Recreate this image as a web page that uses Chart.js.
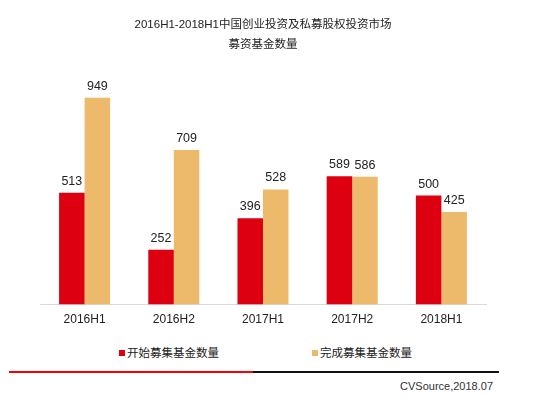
<!DOCTYPE html>
<html>
<head>
<meta charset="utf-8">
<script src="https://cdn.jsdelivr.net/npm/chart.js@4.4.1/dist/chart.umd.min.js"></script>
<style>
  body { margin: 0; background: #fff; font-family: "Liberation Sans", "Noto Sans CJK SC", sans-serif; }
  #wrap { position: relative; width: 549px; height: 398px; }
  #box { position: absolute; left: 0; top: 0; width: 530px; height: 343px; }
  .leg { position: absolute; top: 345px; font-size: 11.5px; color: #222; line-height: 16px; }
  .leg i { display: inline-block; width: 6px; height: 6px; margin-right: 2px; vertical-align: 1px; }
  #lineRed { position: absolute; left: 9px; top: 371px; width: 244px; height: 2px; background: #ff0000; }
  #lineBlack { position: absolute; left: 253px; top: 371px; width: 246px; height: 2px; background: #111; }
  #src { position: absolute; right: 56px; top: 380px; font-size: 11px; color: #333; }
</style>
</head>
<body>
<div id="wrap">
  <div id="box"><canvas id="barChart"></canvas></div>
  <div class="leg" style="left:119px"><i style="background:#dc0010"></i>开始募集基金数量</div>
  <div class="leg" style="left:312px"><i style="background:#edb96a"></i>完成募集基金数量</div>
  <div id="lineRed"></div>
  <div id="lineBlack"></div>
  <div id="src">CVSource,2018.07</div>
</div>
<script>
let periods = ['2016H1', '2016H2', '2017H1', '2017H2', '2018H1'];
let startCount = [513, 252, 396, 589, 500];
let doneCount = [949, 709, 528, 586, 425];

//value labels above bars
const valueLabels = {
    id: 'valueLabels',
    afterDatasetsDraw(chart) {
        const ctx = chart.ctx;
        ctx.save();
        ctx.font = '12.5px "Liberation Sans", sans-serif';
        ctx.fillStyle = '#222';
        ctx.textAlign = 'center';
        ctx.textBaseline = 'alphabetic';
        chart.data.datasets.forEach((ds, i) => {
            chart.getDatasetMeta(i).data.forEach((bar, j) => {
                ctx.fillText(ds.data[j], bar.x, bar.y - 8);
            });
        });
        ctx.restore();
    }
};

const ctx = document.getElementById('barChart');
new Chart(ctx, {
    type: 'bar',
    data: {
        labels: periods,
        datasets: [{
            label: '开始募集基金数量',
            data: startCount,
            backgroundColor: '#dc0010'
        }, {
            label: '完成募集基金数量',
            data: doneCount,
            backgroundColor: '#edb96a'
        }]
    },
    options: {
        responsive: true,
        maintainAspectRatio: false,
        animation: false,
        layout: { padding: { left: 40, right: 44, top: 0, bottom: 8 } },
        datasets: { bar: { categoryPercentage: 0.572, barPercentage: 1 } },
        plugins: {
            legend: { display: false },
            tooltip: { enabled: false },
            title: {
                display: true,
                text: ['2016H1-2018H1中国创业投资及私募股权投资市场', '募资基金数量'],
                color: '#222',
                font: { size: 11.5, weight: 'normal', family: '"Liberation Sans", "Noto Sans CJK SC", sans-serif', lineHeight: 1.74 },
                padding: { top: 15, bottom: 31.5 }
            }
        },
        scales: {
            x: {
                grid: { display: false, drawTicks: false },
                border: { display: true, color: '#d9d9d9' },
                ticks: { color: '#222', padding: 8, font: { size: 12, family: '"Liberation Sans", sans-serif' } }
            },
            y: {
                display: false,
                min: 0,
                max: 1000
            }
        }
    },
    plugins: [valueLabels]
});
</script>
</body>
</html>
